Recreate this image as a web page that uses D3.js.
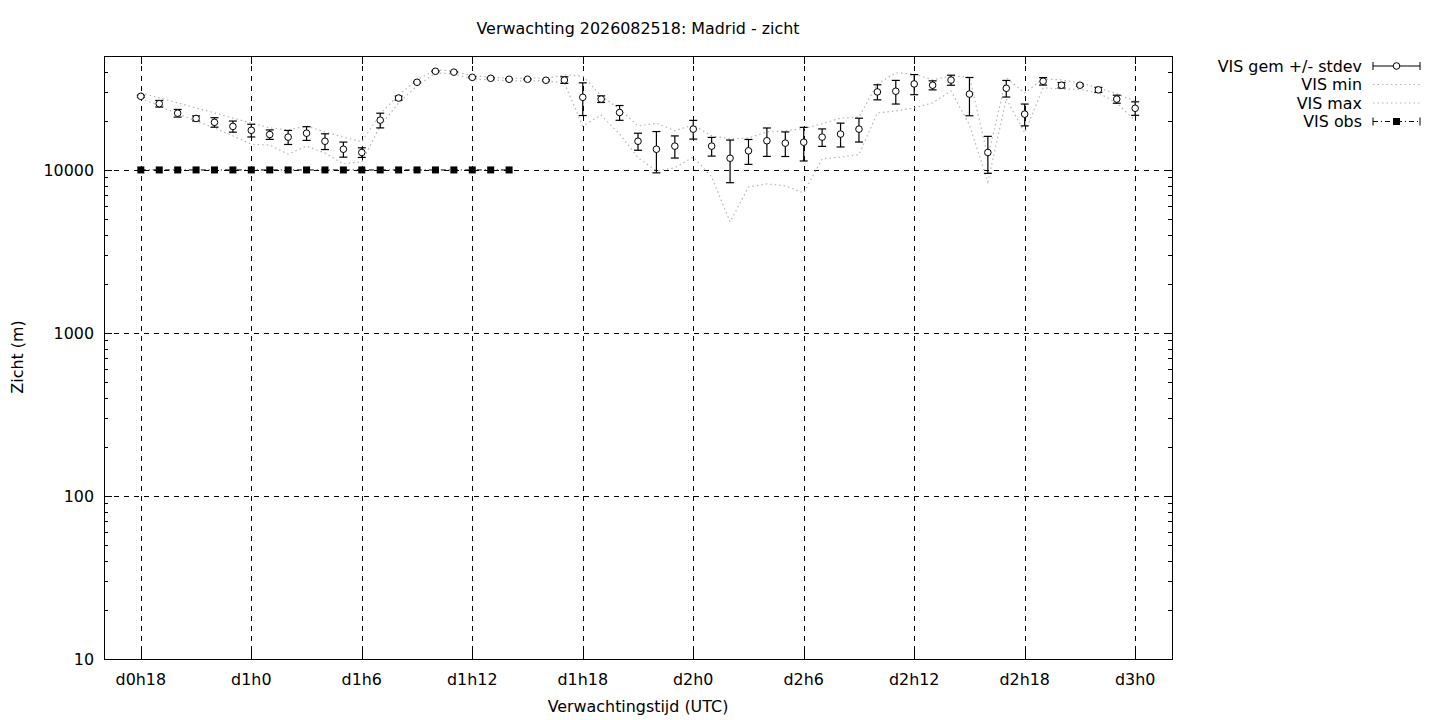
<!DOCTYPE html>
<html>
<head>
<meta charset="utf-8">
<script src="https://cdn.jsdelivr.net/npm/d3@7"></script>
<style>
  body { margin: 0; background: #fff; }
  svg text { font-family: "DejaVu Sans", sans-serif; font-size: 15.9px; fill: #000; }
</style>
</head>
<body>
<svg id="chart" width="1440" height="720"></svg>
<script>
// forecast hour since d0h0
const hours = [18, 19, 20, 21, 22, 23, 24, 25, 26, 27, 28, 29, 30, 31, 32, 33, 34, 35, 36, 37,
  38, 39, 40, 41, 42, 43, 44, 45, 46, 47, 48, 49, 50, 51, 52, 53, 54, 55, 56, 57,
  58, 59, 60, 61, 62, 63, 64, 65, 66, 67, 68, 69, 70, 71, 72];

const visMean = [28300, 25500, 22300, 20700, 19600, 18500, 17500, 16500, 15900, 16800,
  15000, 13400, 12800, 20200, 27600, 34500, 40300, 39800, 37000, 36500,
  36000, 36000, 35500, 35600, 27900, 27200, 22500, 15000, 13400, 14000,
  17800, 14000, 11800, 13100, 15100, 14600, 14800, 15900, 16600, 17800,
  30100, 30400, 33700, 33100, 35600, 29200, 12800, 31700, 22000, 35000,
  33100, 33100, 31000, 27200, 23900];

const visStdev = [400, 1180, 1200, 730, 1310, 1450, 1570, 1100, 1570, 1620,
  1660, 1420, 870, 2090, 780, 300, 300, 300, 400, 300,
  300, 300, 350, 1660, 6330, 1270, 2340, 1800, 3800, 2170,
  2340, 1840, 3450, 2280, 2990, 2510, 3450, 1950, 2770, 2970,
  3190, 5030, 4760, 2110, 2520, 7700, 3270, 3700, 3360, 1840,
  1270, 500, 1100, 1540, 2270];

const visMin = [27500, 24700, 22100, 20000, 18100, 16200, 14400, 14200, 12500, 14000,
  12700, 10900, 11200, 18600, 25800, 32800, 39400, 38800, 36200, 35700,
  35200, 35200, 35200, 34200, 18600, 21700, 16600, 11900, 9860, 10300,
  12000, 9060, 4800, 7860, 8210, 7980, 7230, 11700, 12000, 12400,
  22400, 23000, 24000, 25800, 30500, 18900, 8440, 27300, 16900, 31900,
  31400, 31200, 29700, 25800, 20000];

const visMax = [29700, 27650, 25800, 24000, 22400, 20800, 19400, 18100, 17600, 18600,
  17100, 15900, 14900, 22100, 28800, 35700, 41100, 40500, 37700, 37200,
  36400, 36700, 36400, 38300, 37700, 28400, 23700, 18600, 19400, 17400,
  18900, 16200, 15500, 15700, 17100, 17400, 17900, 19200, 20800, 21100,
  33700, 39400, 38800, 35700, 37700, 37200, 12000, 36700, 29700, 36200,
  35700, 34200, 31900, 29300, 26500];

const obsHours = [18, 19, 20, 21, 22, 23, 24, 25, 26, 27, 28, 29, 30, 31, 32, 33, 34, 35, 36, 37, 38];
const obsVis = [10000, 10000, 10000, 10000, 10000, 10000, 10000, 10000, 10000, 10000, 10000,
  10000, 10000, 10000, 10000, 10000, 10000, 10000, 10000, 10000, 10000];

const xTickHours = [18, 24, 30, 36, 42, 48, 54, 60, 66, 72];
const xTickLabels = ["d0h18", "d1h0", "d1h6", "d1h12", "d1h18", "d2h0", "d2h6", "d2h12", "d2h18", "d3h0"];
const yTicks = [10, 100, 1000, 10000];

const legendLabels = ["VIS gem +/- stdev", "VIS min", "VIS max", "VIS obs"];

const svg = d3.select("#chart");
const pLeft = 104, pRight = 1172, pTop = 56, pBottom = 659;

const x = d3.scaleLinear().domain([16, 74]).range([pLeft, pRight]);
const y = d3.scaleLog().domain([10, 50000]).range([pBottom, pTop]);
const px = v => Math.round(v) + 0.5;

// grid
const grid = svg.append("g").attr("stroke", "#000").attr("stroke-width", 1).attr("stroke-dasharray", "5,5");
grid.selectAll("line.gx").data(xTickHours).enter().append("line")
  .attr("x1", d => px(x(d))).attr("x2", d => px(x(d)))
  .attr("y1", pTop).attr("y2", pBottom);
grid.selectAll("line.gy").data(yTicks.slice(1)).enter().append("line")
  .attr("x1", pLeft).attr("x2", pRight)
  .attr("y1", d => px(y(d))).attr("y2", d => px(y(d)));

// minor / major y ticks on both sides
const minorTicks = [];
yTicks.forEach(dec => {
  for (let k = 2; k <= 9; k++) if (dec * k <= 50000) minorTicks.push(dec * k);
});
const ticks = svg.append("g").attr("stroke", "#000").attr("stroke-width", 1);
[[pLeft, 1], [pRight, -1]].forEach(([x0, dir]) => {
  ticks.selectAll(null).data(minorTicks).enter().append("line")
    .attr("x1", x0).attr("x2", x0 + dir * 4)
    .attr("y1", d => px(y(d))).attr("y2", d => px(y(d)));
  ticks.selectAll(null).data(yTicks).enter().append("line")
    .attr("x1", x0).attr("x2", x0 + dir * 8)
    .attr("y1", d => px(y(d))).attr("y2", d => px(y(d)));
});
[[pBottom, -1], [pTop, 1]].forEach(([y0, dir]) => {
  ticks.selectAll(null).data(xTickHours).enter().append("line")
    .attr("x1", d => px(x(d))).attr("x2", d => px(x(d)))
    .attr("y1", y0).attr("y2", y0 + dir * 8);
});

// border
svg.append("rect")
  .attr("x", pLeft + 0.5).attr("y", pTop + 0.5)
  .attr("width", pRight - pLeft).attr("height", pBottom - pTop)
  .attr("fill", "none").attr("stroke", "#000").attr("stroke-width", 1);

// tick labels
svg.append("g").selectAll("text").data(yTicks).enter().append("text")
  .attr("x", 94).attr("y", d => y(d)).attr("dy", "0.35em")
  .attr("text-anchor", "end").text(d => d);
svg.append("g").selectAll("text").data(xTickHours).enter().append("text")
  .attr("x", d => x(d)).attr("y", 685)
  .attr("text-anchor", "middle").text((d, i) => xTickLabels[i]);

// titles
svg.append("text").attr("x", 638).attr("y", 34).attr("text-anchor", "middle")
  .text("Verwachting 2026082518: Madrid - zicht");
svg.append("text").attr("x", 638).attr("y", 712).attr("text-anchor", "middle")
  .text("Verwachtingstijd (UTC)");
svg.append("text").attr("transform", "translate(23,357) rotate(-90)")
  .attr("text-anchor", "middle").text("Zicht (m)");

// min / max dotted lines
const dotted = "1.5,3";
const lineOf = arr => d3.line().x(d => x(d)).y((d, i) => y(arr[i]));
svg.append("path").datum(hours).attr("d", lineOf(visMin))
  .attr("fill", "none").attr("stroke", "#b4b4b4").attr("stroke-width", 1.2).attr("stroke-dasharray", dotted);
svg.append("path").datum(hours).attr("d", lineOf(visMax))
  .attr("fill", "none").attr("stroke", "#b4b4b4").attr("stroke-width", 1.2).attr("stroke-dasharray", dotted);

// obs: dash-dot line with squares
const obsLine = d3.line().x(d => x(d)).y((d, i) => y(obsVis[i]));
svg.append("path").datum(obsHours).attr("d", obsLine)
  .attr("fill", "none").attr("stroke", "#000").attr("stroke-width", 1).attr("stroke-dasharray", "5,3,1,3");
svg.append("g").selectAll("rect").data(obsHours).enter().append("rect")
  .attr("x", d => x(d) - 3.5).attr("y", (d, i) => y(obsVis[i]) - 3.5)
  .attr("width", 7).attr("height", 7).attr("fill", "#000");

// mean +/- stdev error bars
const eb = svg.append("g").attr("stroke", "#000").attr("stroke-width", 1.2);
hours.forEach((h, i) => {
  const cx = x(h);
  const yHi = y(visMean[i] + visStdev[i]);
  const yLo = y(Math.max(visMean[i] - visStdev[i], 10));
  eb.append("line").attr("x1", cx).attr("x2", cx).attr("y1", yHi).attr("y2", yLo);
  eb.append("line").attr("x1", cx - 4).attr("x2", cx + 4).attr("y1", yHi).attr("y2", yHi);
  eb.append("line").attr("x1", cx - 4).attr("x2", cx + 4).attr("y1", yLo).attr("y2", yLo);
});
svg.append("g").selectAll("circle").data(hours).enter().append("circle")
  .attr("cx", d => x(d)).attr("cy", (d, i) => y(visMean[i]))
  .attr("r", 3.3).attr("fill", "#fff").attr("stroke", "#000").attr("stroke-width", 1);

// legend
const lx0 = 1373, lx1 = 1420, lxm = 1396.5;
const ly = [66, 84.5, 103, 121.5];
const lg = svg.append("g");
lg.selectAll("text").data(legendLabels).enter().append("text")
  .attr("x", 1362).attr("y", (d, i) => ly[i]).attr("dy", "0.35em")
  .attr("text-anchor", "end").text(d => d);
// gem
lg.append("line").attr("x1", lx0).attr("x2", lx1).attr("y1", ly[0]).attr("y2", ly[0]).attr("stroke", "#000");
[lx0, lx1].forEach(xx => lg.append("line").attr("x1", xx).attr("x2", xx)
  .attr("y1", ly[0] - 4).attr("y2", ly[0] + 4).attr("stroke", "#000"));
lg.append("circle").attr("cx", lxm).attr("cy", ly[0]).attr("r", 3.3)
  .attr("fill", "#fff").attr("stroke", "#000");
// min, max
[1, 2].forEach(k => lg.append("line").attr("x1", lx0).attr("x2", lx1)
  .attr("y1", ly[k]).attr("y2", ly[k])
  .attr("stroke", "#b4b4b4").attr("stroke-width", 1.2).attr("stroke-dasharray", dotted));
// obs
lg.append("line").attr("x1", lx0).attr("x2", lx1).attr("y1", ly[3]).attr("y2", ly[3])
  .attr("stroke", "#000").attr("stroke-dasharray", "5,3,1,3");
[lx0, lx1].forEach(xx => lg.append("line").attr("x1", xx).attr("x2", xx)
  .attr("y1", ly[3] - 4).attr("y2", ly[3] + 4).attr("stroke", "#000"));
lg.append("rect").attr("x", lxm - 3.5).attr("y", ly[3] - 3.5).attr("width", 7).attr("height", 7).attr("fill", "#000");
</script>
</body>
</html>
